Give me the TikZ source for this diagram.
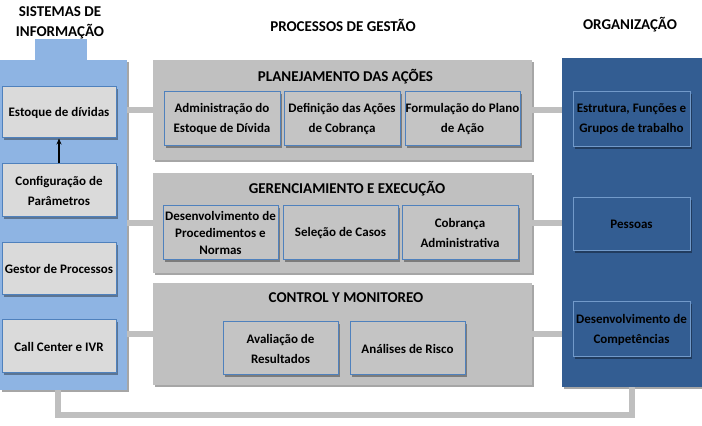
\documentclass[tikz,border=0pt]{standalone}
\usepackage{fontspec}
\setmainfont{Carlito}
\usetikzlibrary{shadows,arrows.meta,calc}
\definecolor{lpanel}{HTML}{8EB4E3}
\definecolor{rpanel}{HTML}{335D92}
\definecolor{boxblue}{HTML}{4F81BD}
\definecolor{lgrey}{HTML}{DADADA}
\definecolor{mgrey}{HTML}{C0C0C0}
\definecolor{igrey}{HTML}{C4C4C4}
\definecolor{cgrey}{HTML}{BFBFBF}
\begin{document}
\begin{tikzpicture}[x=1pt,y=1pt,
  sh/.style={drop shadow={shadow xshift=2pt,shadow yshift=-2pt,opacity=0.35,fill=black}},
  panel/.style={rectangle,draw=none,inner sep=0pt},
  lbox/.style={rectangle,draw=boxblue,line width=1pt,fill=lgrey,inner sep=0pt,align=center,
    font=\bfseries\fontsize{13}{20}\selectfont,minimum width=114pt,sh},
  gbox/.style={rectangle,draw=none,fill=mgrey,inner sep=0pt,minimum width=379pt,sh},
  ibox/.style={rectangle,draw=boxblue,line width=1pt,fill=igrey,inner sep=0pt,align=center,
    font=\bfseries\fontsize{13}{20}\selectfont,sh},
  rbox/.style={rectangle,draw=boxblue!80!white,line width=1pt,fill=rpanel,inner sep=0pt,align=center,
    font=\bfseries\fontsize{13}{20}\selectfont,minimum width=117pt,sh},
  title/.style={font=\bfseries\fontsize{15}{18}\selectfont,inner sep=0pt},
  head/.style={font=\bfseries\fontsize{15}{20}\selectfont,inner sep=0pt,align=center},
  conn/.style={draw=cgrey,line width=6.5pt},
  arr/.style={-{Stealth[length=6pt,width=5pt]},line width=1.5pt,black}
]
\useasboundingbox (0,0) rectangle (702,426);

% headers
\node[head] (hL) at (60,403) {SISTEMAS DE\\INFORMAÇÃO};
\node[head] (hM) at (343,401) {PROCESSOS DE GESTÃO};
\node[head] (hR) at (630,401) {ORGANIZAÇÃO};

% left panel
\node[panel,fill=lpanel,minimum width=52pt,minimum height=21pt] (tab) at (61,376) {};
\node[panel,fill=lpanel,minimum width=127pt,minimum height=330pt,sh] (L) at (63.5,201) {};
\node[lbox,minimum height=51pt] (L1) at (59,313.5) {Estoque de dívidas};
\node[lbox,minimum height=53pt] (L2) at (59,235.5) {Configuração de\\Parâmetros};
\node[lbox,minimum height=52pt] (L3) at (59,157) {Gestor de Processos};
\node[lbox,minimum height=53pt] (L4) at (59,79.5) {Call Center e IVR};
\draw[arr] (L2.north) -- (L1.south);

% right panel
\node[panel,fill=rpanel,minimum width=140pt,minimum height=329pt,sh] (R) at (632,203.5) {};
\node[rbox,minimum height=55pt] (R1) at (631.5,306.5) {Estrutura, Funções e\\Grupos de trabalho};
\node[rbox,minimum height=53pt] (R2) at (631.5,201.5) {Pessoas};
\node[rbox,minimum height=55pt] (R3) at (631.5,96.5) {Desenvolvimento de\\Competências};

% middle groups
\node[gbox,minimum height=100pt] (A) at (342.5,316) {};
\node[gbox,minimum height=100pt] (B) at (342.5,203) {};
\node[gbox,minimum height=102pt] (C) at (342.5,92) {};
\node[title] (tA) at (345.5,349) {PLANEJAMENTO DAS AÇÕES};
\node[title] (tB) at (347,237) {GERENCIAMIENTO E EXECUÇÃO};
\node[title] (tC) at (346,128) {CONTROL Y MONITOREO};

\node[ibox,minimum width=116pt,minimum height=54pt] (A1) at (222,307) {Administração do\\Estoque de Dívida};
\node[ibox,minimum width=116pt,minimum height=54pt] (A2) at (342,307) {Definição das Ações\\de Cobrança};
\node[ibox,minimum width=115pt,minimum height=54pt] (A3) at (462.5,307) {Formulação do Plano\\de Ação};

\node[ibox,minimum width=115pt,minimum height=54pt,font=\bfseries\fontsize{13}{17}\selectfont] (B1) at (220.5,193) {Desenvolvimento de\\Procedimentos e\\Normas};
\node[ibox,minimum width=115pt,minimum height=54pt] (B2) at (340.5,193) {Seleção de Casos};
\node[ibox,minimum width=116pt,minimum height=54pt] (B3) at (460,193) {Cobrança\\Administrativa};

\node[ibox,minimum width=115pt,minimum height=53pt] (C1) at (280.5,77.5) {Avaliação de\\Resultados};
\node[ibox,minimum width=115pt,minimum height=53pt] (C2) at (407.5,77.5) {Análises de Risco};

% connectors
\draw[conn] (L.east |- A.west) -- (A.west);
\draw[conn] (L.east |- B.west) -- (B.west);
\draw[conn] (L.east |- C.west) -- (C.west);
\draw[conn] (A.east) -- (A.east -| R.west);
\draw[conn] (B.east) -- (B.east -| R.west);
\draw[conn] (C.east) -- (C.east -| R.west);
\draw[conn] ([xshift=-5.5pt]L.south) -- ++(0,-25) -| (R.south);
\end{tikzpicture}
\end{document}
